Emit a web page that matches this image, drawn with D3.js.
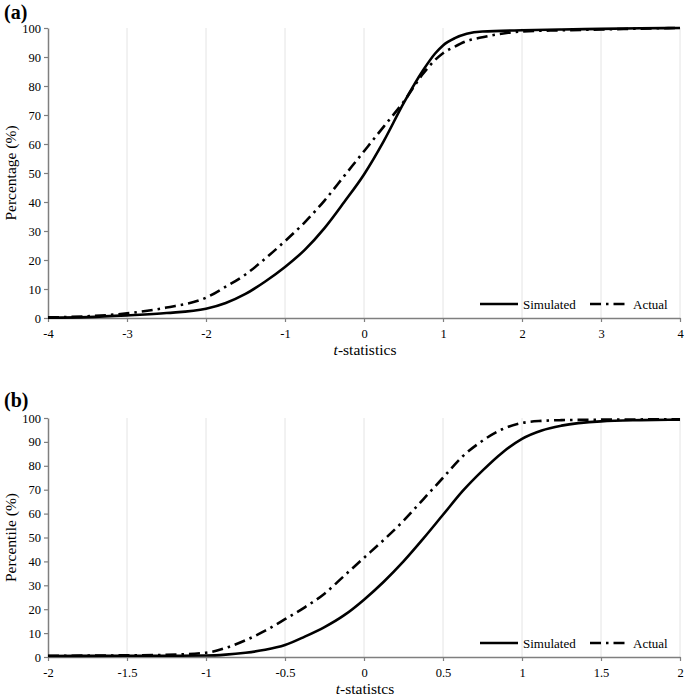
<!DOCTYPE html>
<html lang="en">
<head>
<meta charset="UTF-8">
<title>CDF of t-statistics</title>
<script src="https://cdnjs.cloudflare.com/ajax/libs/d3/7.8.5/d3.min.js"></script>
<style>
  body { margin: 0; background: #fff; }
  svg text { font-family: "Liberation Serif", "Times New Roman", serif; }
</style>
</head>
<body>
<div id="chart"></div>
<script>
// Panel (a): t-statistics vs percentage
var tA = [-4, -3.5, -3, -2.5, -2, -1.75, -1.5, -1.25, -1, -0.75, -0.5, -0.25, 0, 0.25, 0.5, 0.75, 0.9, 1, 1.15, 1.3, 1.5, 2, 2.5, 3, 3.5, 4];
var simA = [0.1, 0.3, 0.9, 1.7, 3.2, 5.2, 8.3, 12.6, 17.6, 23.5, 31, 40, 49.5, 61, 74, 85.5, 91.2, 94, 96.5, 98, 98.8, 99.2, 99.5, 99.7, 99.9, 100];
var actA = [0.2, 0.6, 1.6, 3.6, 7, 10.8, 15, 20.5, 26.5, 33, 40.5, 49, 57.5, 66, 74.5, 84.3, 89, 91.3, 93.6, 95.5, 96.8, 98.8, 99.2, 99.5, 99.8, 100];
var xTicksA = [-4, -3, -2, -1, 0, 1, 2, 3, 4];

// Panel (b): t-statistics vs percentile
var tB = [-2, -1.5, -1.25, -1, -0.875, -0.75, -0.625, -0.5, -0.375, -0.25, -0.125, 0, 0.125, 0.25, 0.375, 0.5, 0.625, 0.75, 0.875, 1, 1.125, 1.25, 1.5, 1.75, 2];
var simB = [0.4, 0.5, 0.5, 0.6, 1, 1.8, 3, 5, 8.5, 12.5, 17.5, 24, 31.5, 40, 49.5, 59.5, 69.5, 78, 85.5, 91.3, 94.8, 96.8, 98.6, 99.1, 99.3];
var actB = [0.5, 0.7, 0.9, 1.8, 3.8, 7, 11, 15.8, 20.8, 26.5, 34, 41.5, 49, 57, 66, 75, 84, 90.5, 95.3, 97.9, 98.8, 99.1, 99.3, 99.4, 99.5];
var xTicksB = [-2, -1.5, -1, -0.5, 0, 0.5, 1, 1.5, 2];

var yTicks = [0, 10, 20, 30, 40, 50, 60, 70, 80, 90, 100];
var seriesNames = ["Simulated", "Actual"];

var w = 685, h = 699;
var FONT = "'Liberation Serif', 'Times New Roman', serif";
var svg = d3.select("#chart").append("svg")
    .attr("width", w)
    .attr("height", h)
    .attr("font-family", FONT);

var dashActual = "11,5,2.5,5";

function drawPanel(cfg) {
    var x = d3.scaleLinear().domain(cfg.xDomain).range([48, 680]);
    var y = d3.scaleLinear().domain([0, 100]).range([cfg.bottom, cfg.top]);
    var g = svg.append("g");

    // vertical gridlines
    g.selectAll(".grid").data(cfg.xTicks.slice(1)).enter()
        .append("line")
        .attr("x1", function(d) { return x(d); })
        .attr("x2", function(d) { return x(d); })
        .attr("y1", cfg.top)
        .attr("y2", cfg.bottom)
        .attr("stroke", "#e4e4e4")
        .attr("stroke-width", 1);

    // x axis
    var xAxis = g.append("g")
        .attr("transform", "translate(0," + cfg.bottom + ")")
        .call(d3.axisBottom(x).tickValues(cfg.xTicks).tickSize(4).tickSizeOuter(0)
            .tickFormat(function(d) { return String(d); }))
        .attr("font-family", FONT);
    xAxis.select(".domain").attr("stroke", "#7f7f7f").attr("stroke-width", 1.5);
    xAxis.selectAll(".tick line").attr("stroke", "#7f7f7f").attr("stroke-width", 1.2);
    xAxis.selectAll(".tick text").attr("font-size", 12.5).attr("fill", "#000").attr("dy", "1.05em");

    // y axis
    var yAxis = g.append("g")
        .attr("transform", "translate(48,0)")
        .call(d3.axisLeft(y).tickValues(yTicks).tickSize(4).tickSizeOuter(0))
        .attr("font-family", FONT);
    yAxis.select(".domain").attr("stroke", "#7f7f7f").attr("stroke-width", 1.5);
    yAxis.selectAll(".tick line").attr("stroke", "#7f7f7f").attr("stroke-width", 1.2);
    yAxis.selectAll(".tick text").attr("font-size", 12.5).attr("fill", "#000").attr("x", -7);

    // curves
    var line = d3.line()
        .x(function(d) { return x(d[0]); })
        .y(function(d) { return y(d[1]); })
        .curve(d3.curveMonotoneX);

    g.append("path")
        .datum(d3.zip(cfg.t, cfg.act))
        .attr("d", line)
        .attr("fill", "none")
        .attr("stroke", "#000")
        .attr("stroke-width", 2.6)
        .attr("stroke-dasharray", dashActual);

    g.append("path")
        .datum(d3.zip(cfg.t, cfg.sim))
        .attr("d", line)
        .attr("fill", "none")
        .attr("stroke", "#000")
        .attr("stroke-width", 2.6);

    // legend
    var ly = cfg.legendY;
    g.append("line").attr("x1", 480).attr("x2", 518).attr("y1", ly).attr("y2", ly)
        .attr("stroke", "#000").attr("stroke-width", 2.6);
    g.append("text").attr("x", 523).attr("y", ly + 4.5).attr("font-size", 13).text(seriesNames[0]);
    g.append("line").attr("x1", 590).attr("x2", 626).attr("y1", ly).attr("y2", ly)
        .attr("stroke", "#000").attr("stroke-width", 2.6)
        .attr("stroke-dasharray", dashActual);
    g.append("text").attr("x", 633).attr("y", ly + 4.5).attr("font-size", 13).text(seriesNames[1]);

    // x title with italic t
    var xt = g.append("text")
        .attr("x", 365).attr("y", cfg.xTitleY)
        .attr("text-anchor", "middle")
        .attr("font-size", 15.5);
    xt.append("tspan").attr("font-style", "italic").text("t");
    xt.append("tspan").text(cfg.xTitleRest);

    // y title
    g.append("text")
        .attr("transform", "translate(16," + (cfg.top + cfg.bottom) / 2 + ") rotate(-90)")
        .attr("text-anchor", "middle")
        .attr("font-size", 15.5)
        .text(cfg.yTitle);

    // panel label
    g.append("text")
        .attr("x", 4).attr("y", cfg.labelY)
        .attr("font-size", 20)
        .attr("font-weight", "bold")
        .text(cfg.label);
}

drawPanel({
    xDomain: [-4, 4], xTicks: xTicksA, t: tA, sim: simA, act: actA,
    top: 28, bottom: 318, legendY: 304, xTitleY: 355,
    xTitleRest: "-statistics", yTitle: "Percentage (%)", label: "(a)", labelY: 19
});

drawPanel({
    xDomain: [-2, 2], xTicks: xTicksB, t: tB, sim: simB, act: actB,
    top: 418, bottom: 657, legendY: 643, xTitleY: 694,
    xTitleRest: "-statistcs", yTitle: "Percentile (%)", label: "(b)", labelY: 407
});
</script>
</body>
</html>
